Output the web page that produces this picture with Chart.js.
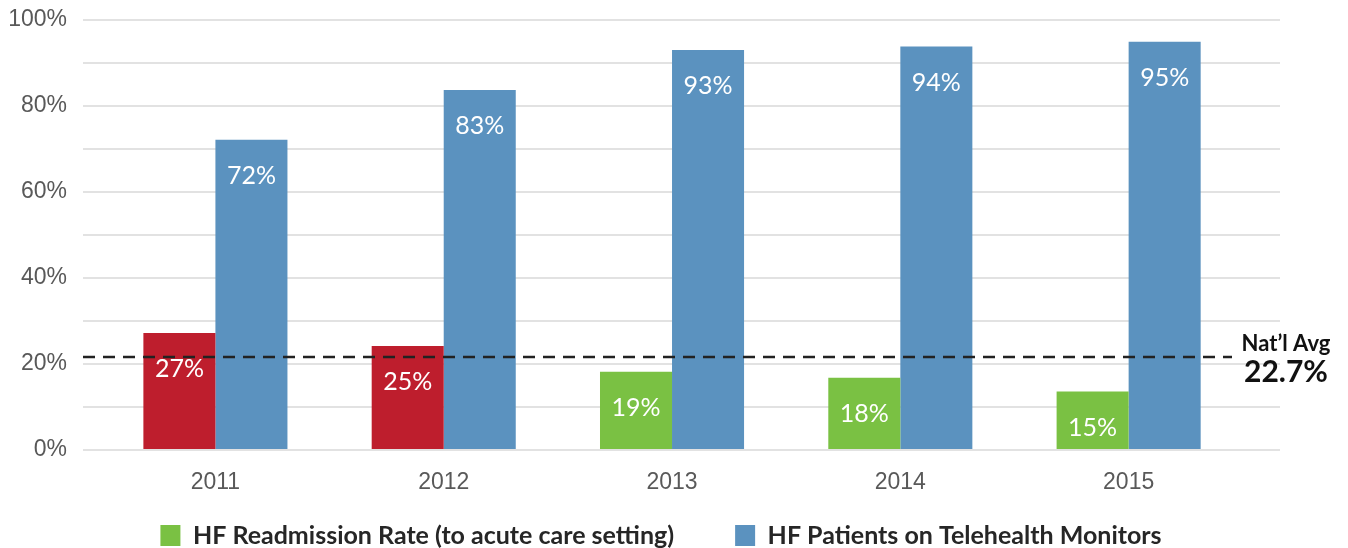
<!DOCTYPE html>
<html>
<head>
<meta charset="utf-8">
<script src="https://cdn.jsdelivr.net/npm/chart.js@4.4.0/dist/chart.umd.min.js"></script>
<style>
  html, body { margin: 0; padding: 0; background: #ffffff; }
  #wrap { width: 1348px; height: 548px; }
</style>
</head>
<body>
<div id="wrap"><canvas id="c" width="1348" height="548"></canvas></div>
<script>
// ---- data ----
const years = [2011, 2012, 2013, 2014, 2015];
const readmitRate = [27.2, 24.2, 18.2, 16.8, 13.6];      // bar heights as drawn
const readmitLabels = [27, 25, 19, 18, 15];               // printed values
const monitorRate = [72.1, 83.7, 93.0, 93.8, 94.9];
const monitorLabels = [72, 83, 93, 94, 95];
const natAvgValue = 22.7;        // printed national average
const natAvgLineLevel = 21.6;    // level where the dashed line is drawn
const yTicks = [0, 20, 40, 60, 80, 100];
const seriesNames = ['HF Readmission Rate (to acute care setting)', 'HF Patients on Telehealth Monitors'];

// ---- styles ----
const RED = '#be1e2d', GREEN = '#7ac143', BLUE = '#5b92bf';
const FONT = 'Lato, "Open Sans", "DejaVu Sans", sans-serif';
const TICK_FONT = '"Liberation Sans", Arial, Helvetica, sans-serif';
const readmitColors = readmitLabels.map(v => v > natAvgValue ? RED : GREEN);
const legendColors = [GREEN, BLUE];
const LEGEND_ITEM_GAP = 61;   // horizontal gap between legend entries
const LEGEND_TOP_GAP = 25;    // space between x axis block and legend row

const valueLabels = {
  id: 'valueLabels',
  afterDatasetsDraw(chart) {
    const ctx = chart.ctx;
    const texts = [readmitLabels, monitorLabels];
    ctx.save();
    ctx.fillStyle = '#ffffff';
    ctx.font = '25px ' + FONT;
    ctx.textAlign = 'center';
    ctx.textBaseline = 'middle';
    chart.data.datasets.forEach((ds, di) => {
      chart.getDatasetMeta(di).data.forEach((el, i) => {
        ctx.fillText(texts[di][i] + '%', el.x, el.y + 36);
      });
    });
    ctx.restore();
  }
};

const natAvg = {
  id: 'natAvg',
  afterDatasetsDraw(chart) {
    const ctx = chart.ctx;
    const area = chart.chartArea;
    const y = chart.scales.y.getPixelForValue(natAvgLineLevel);
    ctx.save();
    ctx.strokeStyle = '#222222';
    ctx.lineWidth = 2.5;
    ctx.setLineDash([12, 8]);
    ctx.beginPath();
    ctx.moveTo(area.left, y);
    ctx.lineTo(area.right - 48, y);
    ctx.stroke();
    ctx.setLineDash([]);
    ctx.fillStyle = '#111111';
    ctx.textAlign = 'center';
    ctx.textBaseline = 'middle';
    const cx = area.right + 6;
    ctx.font = 'bold 22px ' + FONT;
    ctx.fillText('Nat\u2019l Avg', cx, y - 13);
    ctx.font = 'bold 30px ' + FONT;
    ctx.fillText(natAvgValue.toFixed(1) + '%', cx, y + 15);
    ctx.restore();
  }
};

// keep the wide horizontal legend gap without the same vertical gap
const legendNudge = {
  id: 'legendNudge',
  afterLayout(chart) {
    const lg = chart.legend;
    const dy = LEGEND_ITEM_GAP - LEGEND_TOP_GAP;
    lg.top -= dy;
    lg.bottom -= dy;
  }
};

new Chart(document.getElementById('c'), {
  type: 'bar',
  data: {
    datasets: [
      {
        label: seriesNames[0],
        data: years.map((yr, i) => ({ x: yr, y: readmitRate[i] })),
        backgroundColor: readmitColors,
        borderWidth: 0
      },
      {
        label: seriesNames[1],
        data: years.map((yr, i) => ({ x: yr, y: monitorRate[i] })),
        backgroundColor: BLUE,
        borderWidth: 0
      }
    ]
  },
  options: {
    responsive: false,
    animation: false,
    devicePixelRatio: 1,
    layout: { padding: { top: 0, right: 26, left: 0, bottom: -46 } },
    datasets: { bar: { categoryPercentage: 0.631, barPercentage: 1.0 } },
    scales: {
      x: {
        type: 'linear',
        offset: false,
        min: years[0] - 0.58,
        max: years[years.length - 1] + 0.663,
        afterFit: (scale) => { scale.height = 48; },
        grid: { display: false, drawTicks: false },
        border: { display: false },
        ticks: {
          stepSize: 1,
          includeBounds: false,
          autoSkip: false,
          maxRotation: 0,
          padding: 19,
          color: '#595959',
          font: { family: TICK_FONT, size: 23 },
          callback: (v) => years.includes(v) ? String(v) : ''
        }
      },
      y: {
        min: 0,
        max: 100,
        afterFit: (scale) => { scale.width = 83; },
        grid: { color: '#e2e2e2', lineWidth: 2, drawTicks: true, tickLength: 10, tickColor: 'rgba(0,0,0,0)' },
        border: { display: false },
        ticks: {
          stepSize: 10,
          padding: 6,
          color: '#595959',
          font: { family: TICK_FONT, size: 23 },
          callback: (v) => yTicks.includes(v) ? v + '%' : ''
        }
      },
      yRight: {
        position: 'right',
        display: true,
        afterFit: (scale) => { scale.width = 42; },
        grid: { display: false, drawTicks: false },
        border: { display: false },
        ticks: { display: false }
      }
    },
    plugins: {
      tooltip: { enabled: false },
      legend: {
        position: 'bottom',
        labels: {
          boxWidth: 20,
          boxHeight: 21,
          padding: LEGEND_ITEM_GAP,
          color: '#262626',
          font: { family: FONT, size: 25, weight: 'bold' },
          generateLabels(chart) {
            const items = Chart.defaults.plugins.legend.labels.generateLabels(chart);
            items.forEach((it, i) => {
              it.fillStyle = legendColors[i];
              it.strokeStyle = legendColors[i];
              it.lineWidth = 0;
            });
            return items;
          }
        }
      }
    }
  },
  plugins: [valueLabels, natAvg, legendNudge]
});
</script>
</body>
</html>
